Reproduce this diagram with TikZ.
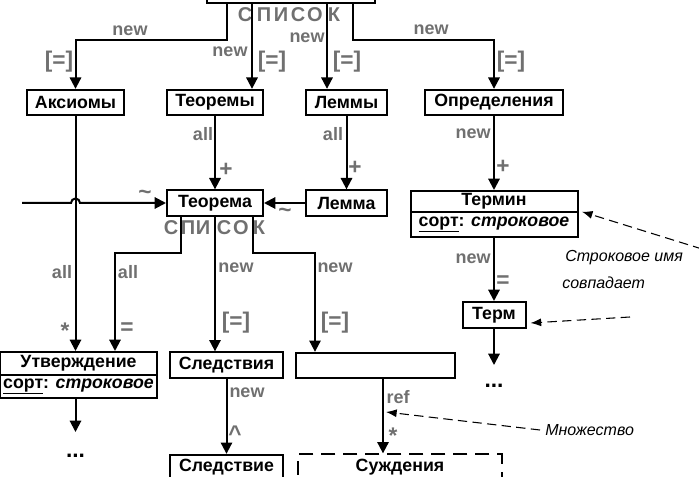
\documentclass[tikz,border=0pt]{standalone}
\usepackage{fontspec}
\setmainfont{Liberation Sans}
\usetikzlibrary{arrows.meta}
\definecolor{lblgray}{RGB}{112,112,112}
\def\boxfont{\fontsize{13.3}{16}\selectfont\bfseries}
\def\lblfont{\fontsize{13.5}{16}\selectfont\bfseries}
\def\symfont{\fontsize{17}{20}\selectfont\bfseries}
\def\spfont{\fontsize{15}{18}\selectfont\bfseries}
\tikzset{
	box/.style={draw, line width=1.5pt, fill=white, inner sep=0pt, minimum height=19pt, font=\boxfont},
	lbl/.style={text=lblgray, inner sep=0pt, font=\lblfont},
	sym/.style={text=lblgray, inner sep=0pt, font=\symfont},
	sp/.style={text=lblgray, inner sep=0pt, font=\spfont},
	link/.style={line width=1.5pt, -{Triangle[length=8.5pt,width=8.5pt]}},
	notelink/.style={line width=0.8pt, dash pattern=on 7pt off 4pt, -{Latex[length=8pt,width=6pt]}},
	note/.style={inner sep=0pt, anchor=west, font=\fontsize{12}{14}\selectfont\itshape},
}
\begin{document}
\begin{tikzpicture}[x=0.75pt,y=-0.75pt]
			%%%%% START %%%%%
			\useasboundingbox (0,0) rectangle (699,477);
			
			\node[box, minimum width=126pt, minimum height=22pt] (spisok) at (291,-12) {};
			\node[sp] (s1) at (245,15) {С};
			\node[sp] (s2) at (264,15) {П};
			\node[sp] (s3) at (281,15) {И};
			\node[sp] (s4) at (298,15) {С};
			\node[sp] (s5) at (315,15) {О};
			\node[sp] (s6) at (334,15) {К};
			
			\node[box, minimum width=72.75pt] (aksiomy) at (75.5,102.5) {Аксиомы};
			\node[box, minimum width=72pt] (teoremy) at (215,102.5) {Теоремы};
			\node[box, minimum width=60.75pt] (lemmy) at (346.5,102.5) {Леммы};
			\node[box, minimum width=103.5pt] (opredeleniya) at (494,102.5) {Определения};
			
			\draw[link] (spisok.south -| 227,0) -- (227,40) -| (aksiomy.north);
			\draw[link] (spisok.south -| 252,0) -- (teoremy.north -| 252,0);
			\draw[link] (spisok.south -| 327,0) -- (lemmy.north -| 327,0);
			\draw[link] (spisok.south -| 353,0) -- (353,40) -| (opredeleniya.north);
			
			\node[lbl] (l1) at (130,31) {new};
			\node[sym] (l2) at (59,62) {[=]};
			\node[lbl] (l3) at (230,52) {new};
			\node[sym] (l4) at (272,62) {[=]};
			\node[lbl] (l5) at (307,38) {new};
			\node[sym] (l6) at (347,62) {[=]};
			\node[lbl] (l7) at (431,30) {new};
			\node[sym] (l8) at (511,62) {[=]};
			
			\node[box, minimum width=72pt] (teorema) at (215,203) {Теорема};
			\node[box, minimum width=60.75pt] (lemma) at (346.5,203) {Лемма};
			\node[box, minimum width=125.25pt, minimum height=15.75pt] (termin) at (494,201.5) {Термин};
			\node[box, minimum width=125.25pt, minimum height=18.75pt] (terminsort) at (494,224.5) {\underline{сорт}: \textit{строковое}};
			
			\draw[link] (teoremy) -- (teorema);
			\draw[link] (lemmy) -- (lemma);
			\draw[link] (opredeleniya) -- (termin);
			\draw[link] (lemma) -- (teorema);
			\coordinate (lin) at (22,203);
			\draw[link] (lin) -- (71,203) arc (180:360:4.5) -- (teorema.west);
			
			\node[lbl] (l9) at (203,134) {all};
			\node[sym] (l10) at (226,170) {+};
			\node[lbl] (l11) at (333,134) {all};
			\node[sym] (l12) at (355,168) {+};
			\node[lbl] (l13) at (473,134) {new};
			\node[sym] (l14) at (503,167) {+};
			\node[sym] (l15) at (145,195) {\textasciitilde};
			\node[sym] (l16) at (285,213) {\textasciitilde};
			
			\node[sp] (t1) at (171,228) {С};
			\node[sp] (t2) at (188,228) {П};
			\node[sp] (t3) at (203,228) {И};
			\node[sp] (t4) at (224,228) {С};
			\node[sp] (t5) at (241,228) {О};
			\node[sp] (t6) at (259,228) {К};
			
			\node[box, minimum width=117.75pt, minimum height=17.25pt] (utv) at (78.5,363.5) {Утверждение};
			\node[box, minimum width=117.75pt, minimum height=17.25pt] (utvsort) at (78.5,386.5) {\underline{сорт}: \textit{строковое}};
			\node[box, minimum width=84.75pt] (sledstviya) at (226.5,365) {Следствия};
			\node[box, minimum width=119.25pt] (pustoy) at (375.5,365.5) {};
			\node[box, minimum width=47.25pt, minimum height=19.5pt] (term) at (494,315) {Терм};
			
			\draw[link] (aksiomy.south) -- (aksiomy.south |- utv.north);
			\draw[link] (teorema.south -| 181,0) -- (181,253) -| (utv.north -| 115,0);
			\draw[link] (teorema.south) -- (teorema.south |- sledstviya.north);
			\draw[link] (teorema.south -| 253,0) -- (253,253) -| (pustoy.north -| 315,0);
			\draw[link] (terminsort) -- (term);
			
			\node[lbl] (l17) at (62,272) {all};
			\node[sym] (l18) at (65,331) {*};
			\node[lbl] (l19) at (128,272) {all};
			\node[sym] (l20) at (127,329) {=};
			\node[lbl] (l21) at (236,268) {new};
			\node[sym] (l22) at (236,323) {[=]};
			\node[lbl] (l23) at (335,268) {new};
			\node[sym] (l24) at (335,323) {[=]};
			\node[lbl] (l25) at (473,259) {new};
			\node[sym] (l26) at (503,282) {=};
			
			\node[box, minimum width=84.75pt] (sledstvie) at (226.5,467.5) {Следствие};
			\node[box, minimum width=153pt, dash pattern=on 10.5pt off 6pt] (suzhdeniya) at (400,467) {Суждения};
			
			\coordinate (e1) at (75.5,432);
			\coordinate (e2) at (494,365);
			\node[sym, text=black] (dots1) at (75.5,456) {...};
			\node[sym, text=black] (dots2) at (494,386) {...};
			\draw[link] (aksiomy.south |- utvsort.south) -- (e1);
			\draw[link] (term) -- (e2);
			\draw[link] (sledstviya) -- (sledstvie);
			\draw[link] (383,0 |- pustoy.south) -- (383,0 |- suzhdeniya.north);
			
			\node[lbl] (l27) at (247,393) {new};
			\node[sym] (l28) at (235,434) {\textasciicircum};
			\node[lbl] (l29) at (398,397) {ref};
			\node[sym] (l30) at (393,436) {*};
			
			\node[note] (note1) at (565,258) {Строковое имя};
			\node[note] (note2) at (562,283) {совпадает};
			\node[note] (note3) at (545,430) {Множество};
			\coordinate (n1) at (702,249);
			\coordinate (n2) at (630,317);
			\coordinate (n3) at (540,430);
			\coordinate (refpt) at (386,412);
			\draw[notelink] (n1) -- ([xshift=2.5pt,yshift=1pt]termin.south east);
			\draw[notelink] (n2) -- ([xshift=3pt,yshift=-6pt]term.east);
			\draw[notelink] (n3) -- (refpt);
			
			%%%%% END %%%%%
\end{tikzpicture}
\end{document}
